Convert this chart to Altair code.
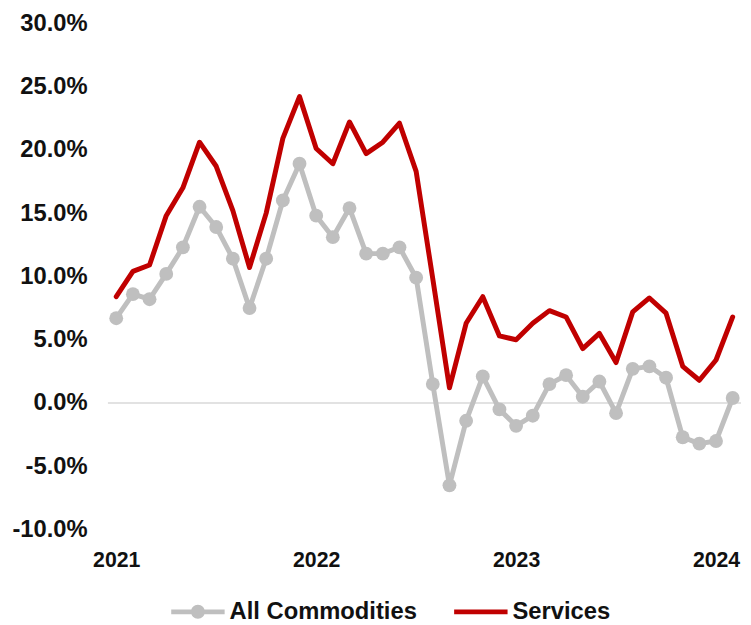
import altair as alt
import pandas as pd

# Monthly categories, Jan 2021 .. Feb 2024
months = [f"{y}-{m:02d}" for y in (2021, 2022, 2023) for m in range(1, 13)] + ["2024-01", "2024-02"]

# Year-over-year change, %
all_commodities = [6.7, 8.6, 8.2, 10.2, 12.3, 15.5, 13.9, 11.4, 7.5, 11.4, 16.0, 18.9,
                   14.8, 13.1, 15.4, 11.8, 11.8, 12.3, 9.9, 1.5, -6.5, -1.4, 2.1, -0.5,
                   -1.8, -1.0, 1.5, 2.2, 0.5, 1.7, -0.8, 2.7, 2.9, 2.0, -2.7, -3.2,
                   -3.0, 0.4]
services = [8.4, 10.4, 10.9, 14.8, 17.0, 20.6, 18.7, 15.2, 10.7, 15.0, 20.9, 24.2,
            20.1, 18.9, 22.2, 19.7, 20.6, 22.1, 18.3, 9.8, 1.2, 6.3, 8.4, 5.3,
            5.0, 6.3, 7.3, 6.8, 4.3, 5.5, 3.2, 7.2, 8.3, 7.1, 2.9, 1.8,
            3.4, 6.8]

series_names = ["All Commodities", "Services"]
series_colors = ["#BFBFBF", "#C00000"]
year_labels = ["2021", "2022", "2023", "2024"]
year_ticks = [0, 12, 24, 36]
y_ticks = [-10, -5, 0, 5, 10, 15, 20, 25, 30]

rows = []
for i, m in enumerate(months):
    rows.append({"idx": i, "month": m, "series": "All Commodities", "value": all_commodities[i]})
    rows.append({"idx": i, "month": m, "series": "Services", "value": services[i]})
df = pd.DataFrame(rows)
zero_df = pd.DataFrame({"value": [0]})

FONT = "Liberation Sans"
TXT = "#111111"

x_enc = alt.X(
    "idx:Q",
    scale=alt.Scale(domain=[-0.5, len(months) - 0.5], nice=False, zero=False),
    axis=alt.Axis(
        values=year_ticks,
        labelExpr="['" + "','".join(year_labels) + "'][round(datum.value/12)]",
        title=None, grid=False, ticks=False, domain=False, tickSize=0,
        labelFont=FONT, labelFontSize=21.5, labelFontWeight="bold", labelColor=TXT,
        labelPadding=20, labelFlush=False,
    ),
)
y_enc = alt.Y(
    "value:Q",
    scale=alt.Scale(domain=[-10, 30], nice=False, zero=False),
    axis=alt.Axis(
        values=y_ticks,
        labelExpr="(datum.value < 0 ? '-' : '') + format(abs(datum.value), '.1f') + '%'",
        title=None, grid=False, ticks=False, domain=False, tickSize=0,
        labelFont=FONT, labelFontSize=24, labelFontWeight="bold", labelColor=TXT,
        labelPadding=21,
    ),
)

color_scale = alt.Scale(domain=series_names, range=series_colors)

zero_rule = alt.Chart(zero_df).mark_rule(color="#D9D9D9", strokeWidth=1.5).encode(y="value:Q")

lines = alt.Chart(df).mark_line(strokeWidth=5, strokeJoin="round", strokeCap="round").encode(
    x=x_enc, y=y_enc,
    color=alt.Color("series:N", scale=color_scale, legend=None),
    detail="series:N",
)

points = alt.Chart(df).transform_filter(
    alt.datum.series == "All Commodities"
).mark_point(filled=True, size=196, opacity=1).encode(
    x=x_enc, y=y_enc,
    color=alt.Color("series:N", scale=color_scale, legend=None),
)

# legend-only layer (draws no marks)
line_circle = ("M-1,-0.09L1,-0.09L1,0.09L-1,0.09Z "
               "M0.26,0A0.26,0.26 0 1,1 -0.26,0A0.26,0.26 0 1,1 0.26,0Z")
line_only = "M-1,-0.09L1,-0.09L1,0.09L-1,0.09Z"
leg = alt.Legend(orient="none", legendX=64, legendY=568,
                 direction="horizontal", title=None,
                 labelFont=FONT, labelFontSize=24,
                 labelFontWeight="bold", labelColor=TXT,
                 labelOffset=5, columnPadding=37,
                 symbolSize=2916, symbolStrokeWidth=0,
                 symbolOpacity=1, padding=0, labelLimit=400)
legend_layer = alt.Chart(df).transform_filter("false").mark_point(
    filled=True, opacity=1, size=2916
).encode(
    x=x_enc, y=y_enc,
    color=alt.Color("series:N", scale=color_scale, title=None, legend=leg),
    shape=alt.Shape("series:N", scale=alt.Scale(domain=series_names, range=[line_circle, line_only]),
                    title=None, legend=leg),
)

chart = alt.layer(zero_rule, lines, points, legend_layer).resolve_legend(
    color="independent", shape="independent"
).properties(
    width=640, height=512,
    padding={"left": 101, "top": 12, "right": 2, "bottom": 92},
    autosize=alt.AutoSizeParams(type="none"),
).configure(background="white").configure_view(stroke=None)

chart.save("out.html", embed_options={"renderer": "svg", "actions": False})
